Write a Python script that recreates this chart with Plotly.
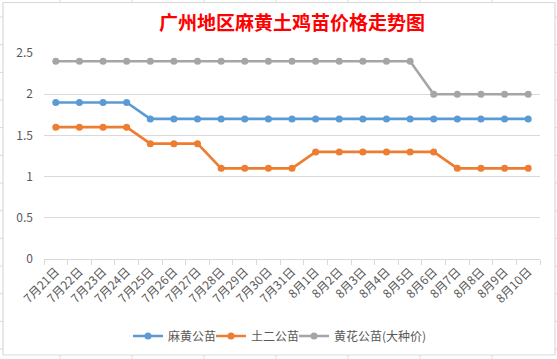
import plotly.graph_objects as go

dates = ["7月21日", "7月22日", "7月23日", "7月24日", "7月25日", "7月26日", "7月27日",
         "7月28日", "7月29日", "7月30日", "7月31日", "8月1日", "8月2日", "8月3日",
         "8月4日", "8月5日", "8月6日", "8月7日", "8月8日", "8月9日", "8月10日"]
mahuang = [1.9, 1.9, 1.9, 1.9, 1.7, 1.7, 1.7, 1.7, 1.7, 1.7, 1.7,
           1.7, 1.7, 1.7, 1.7, 1.7, 1.7, 1.7, 1.7, 1.7, 1.7]
tuer = [1.6, 1.6, 1.6, 1.6, 1.4, 1.4, 1.4, 1.1, 1.1, 1.1, 1.1,
        1.3, 1.3, 1.3, 1.3, 1.3, 1.3, 1.1, 1.1, 1.1, 1.1]
huanghua = [2.4, 2.4, 2.4, 2.4, 2.4, 2.4, 2.4, 2.4, 2.4, 2.4, 2.4,
            2.4, 2.4, 2.4, 2.4, 2.4, 2.0, 2.0, 2.0, 2.0, 2.0]
series_names = ["麻黄公苗", "土二公苗", "黄花公苗(大种价)"]
colors = ["#5B9BD5", "#ED7D31", "#A5A5A5"]
yticks = [0, 0.5, 1, 1.5, 2, 2.5]
ytick_labels = ["0", "0.5", "1", "1.5", "2", "2.5"]

W, H = 557, 359
L, R, T, B = 44, 17, 53, 100
pw, ph = W - L - R, H - T - B

def px(x):
    return (x - L) / pw

def py(y):
    return (H - B - y) / ph

legend_ids = ["legend", "legend2", "legend3"]
legend_left = [128, 211, 294]

fig = go.Figure()
for name, vals, c, lg in zip(series_names, [mahuang, tuer, huanghua], colors, legend_ids):
    fig.add_trace(go.Scatter(x=dates, y=vals, name=name, mode="lines+markers",
                             line=dict(color=c, width=2.6),
                             marker=dict(color=c, size=7), legend=lg))

shapes = []
grid_c = "#D9D9D9"
# spreadsheet gridlines outside chart
for cx in [60, 132, 204, 276, 348, 420, 492]:
    shapes.append(dict(type="line", xref="paper", yref="paper", x0=px(cx), x1=px(cx),
                       y0=py(0), y1=py(3), line=dict(color=grid_c, width=1), layer="below"))
    shapes.append(dict(type="line", xref="paper", yref="paper", x0=px(cx), x1=px(cx),
                       y0=py(355), y1=py(359), line=dict(color=grid_c, width=1), layer="below"))
for k in range(13):
    ry = 17 + k * 27.67
    shapes.append(dict(type="line", xref="paper", yref="paper", x0=px(0), x1=px(3),
                       y0=py(ry), y1=py(ry), line=dict(color=grid_c, width=1), layer="below"))
    shapes.append(dict(type="line", xref="paper", yref="paper", x0=px(555), x1=px(557),
                       y0=py(ry), y1=py(ry), line=dict(color=grid_c, width=1), layer="below"))
# chart border
shapes.append(dict(type="rect", xref="paper", yref="paper", x0=px(3), x1=px(555),
                   y0=py(355), y1=py(2.5), line=dict(color="#D9D9D9", width=1.2), layer="below"))

legend_kw = {}
for lg, lx in zip(legend_ids, legend_left):
    legend_kw[lg] = dict(orientation="h", x=px(lx), xanchor="left", xref="paper",
                         y=py(336), yanchor="middle", font=dict(size=12, color="#595959"),
                         bgcolor="rgba(0,0,0,0)")

fig.update_layout(
    width=W, height=H,
    margin=dict(l=L, r=R, t=T, b=B, autoexpand=False),
    paper_bgcolor="white", plot_bgcolor="white",
    font=dict(family="Noto Sans CJK SC, Noto Sans, sans-serif", color="#595959", size=12),
    title=dict(text="<b>广州地区麻黄土鸡苗价格走势图</b>", x=0.5, xref="paper", xanchor="center",
               y=1 - 23 / H, yanchor="middle",
               font=dict(family="Noto Sans CJK SC", size=19, color="#FF0000")),
    showlegend=True,
    shapes=shapes,
    **legend_kw,
)
fig.update_xaxes(type="category", tickangle=-45, tickson="boundaries", automargin=False,
                 ticks="outside", ticklen=5, tickcolor="#D9D9D9",
                 showline=True, linecolor="#D9D9D9", linewidth=1,
                 showgrid=False, range=[-0.5, len(dates) - 0.5],
                 tickfont=dict(size=12, color="#595959"))
fig.update_yaxes(range=[0, 2.5], tickvals=yticks, ticktext=ytick_labels, automargin=False,
                 showgrid=True, gridcolor="#D9D9D9", gridwidth=1, zeroline=False,
                 showline=False, ticks="", ticklabelstandoff=10,
                 tickfont=dict(size=12, color="#595959"))

fig.write_html("out.html", config={"displayModeBar": False},
               post_script="document.body.style.margin='0';document.body.style.overflow='hidden';")
